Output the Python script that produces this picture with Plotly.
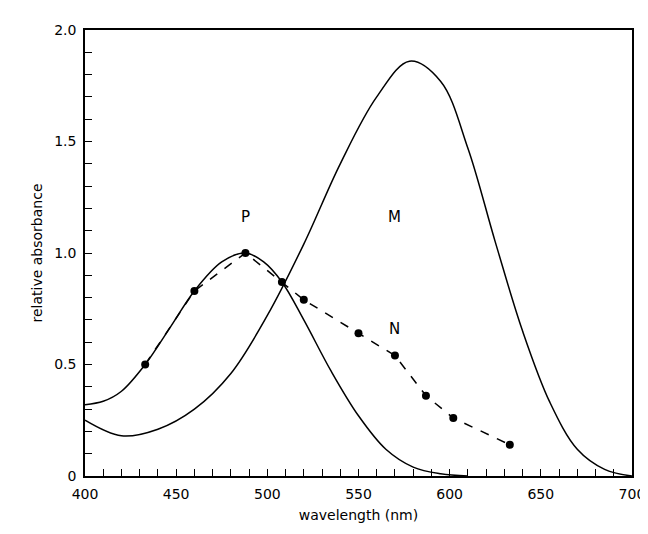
import plotly.graph_objects as go

p_x = [400, 410, 420, 433, 447, 460, 475, 488, 498, 508, 520, 535, 550, 565, 580, 595, 610]
p_y = [0.32, 0.335, 0.38, 0.50, 0.67, 0.83, 0.96, 1.00, 0.96, 0.87, 0.70, 0.47, 0.27, 0.12, 0.04, 0.01, 0.0]
m_x = [400, 420, 440, 460, 480, 500, 520, 540, 560, 578, 595, 610, 625, 640, 655, 670, 685, 700]
m_y = [0.25, 0.18, 0.21, 0.30, 0.46, 0.72, 1.04, 1.40, 1.70, 1.86, 1.77, 1.47, 1.05, 0.65, 0.33, 0.12, 0.03, 0.0]
n_x = [433, 460, 488, 508, 520, 550, 570, 587, 602, 633]
n_y = [0.50, 0.83, 1.00, 0.87, 0.79, 0.64, 0.54, 0.36, 0.26, 0.14]

fig = go.Figure()
fig.add_trace(go.Scatter(x=p_x, y=p_y, mode="lines", line=dict(color="black", width=1.5, shape="spline", smoothing=1.0)))
fig.add_trace(go.Scatter(x=m_x, y=m_y, mode="lines", line=dict(color="black", width=1.5, shape="spline", smoothing=1.0)))
fig.add_trace(go.Scatter(x=n_x, y=n_y, mode="lines+markers", line=dict(color="black", width=1.5, dash="dash"),
                         marker=dict(color="black", size=8)))
for t, x, y in [("P", 488, 1.16), ("M", 570, 1.16), ("N", 570, 0.66)]:
    fig.add_annotation(x=x, y=y, text=t, showarrow=False, font=dict(size=15, color="black"))

ax = dict(showline=True, linecolor="black", linewidth=1.5, mirror=True, showgrid=False, zeroline=False, automargin=False,
          ticks="inside", tickcolor="black", ticklen=7, tickfont=dict(size=14, color="black", family="DejaVu Sans"))
fig.update_xaxes(range=[400, 700.01], tickvals=list(range(400, 701, 50)), ticklabelstandoff=4,
                 minor=dict(dtick=10, ticks="inside", ticklen=7, tickcolor="black"),
                 title=dict(text="wavelength (nm)", standoff=10, font=dict(size=14, color="black", family="DejaVu Sans")), **ax)
fig.update_yaxes(range=[0, 2.0], tickvals=[0, 0.5, 1.0, 1.5, 2.0], ticktext=["0", "0.5", "1.0", "1.5", "2.0"],
                 ticklabelstandoff=4, minor=dict(dtick=0.1, ticks="inside", ticklen=7, tickcolor="black"),
                 title=dict(text="relative absorbance", standoff=8, font=dict(size=14, color="black", family="DejaVu Sans")), **ax)
fig.update_layout(width=648, height=534, showlegend=False, plot_bgcolor="white", paper_bgcolor="white",
                  margin=dict(l=77, r=24, t=22, b=66), font=dict(family="DejaVu Sans"))
fig.write_html("out.html")
